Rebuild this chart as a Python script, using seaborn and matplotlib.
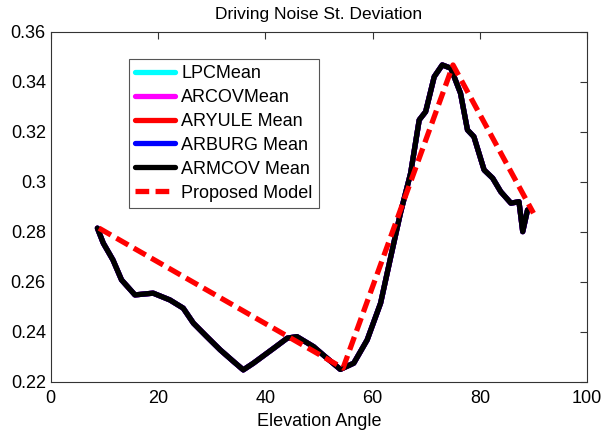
import matplotlib.pyplot as plt
import seaborn as sns
import pandas as pd

# Elevation angle vs driving noise std
angle = [8.7, 9.8, 11.6, 13.2, 15.7, 19.1, 22.2, 24.7, 26.6, 29.1, 31.6, 34.1,
         35.9, 37.8, 41.6, 44.1, 45.9, 49.0, 51.5, 54.0, 56.5, 59.0, 61.5,
         63.4, 65.2, 67.1, 68.7, 69.9, 71.5, 73.0, 74.6, 76.4, 77.7, 78.9,
         80.8, 82.4, 83.9, 85.8, 87.3, 88.0, 88.9]
noise_std = [0.2815, 0.2755, 0.2688, 0.2608, 0.2548, 0.2555, 0.2528, 0.2495,
             0.2435, 0.2381, 0.2328, 0.2281, 0.2248, 0.2275, 0.2335, 0.2375,
             0.2381, 0.2341, 0.2295, 0.2250, 0.2275, 0.2368, 0.2515, 0.2701,
             0.2875, 0.3035, 0.3248, 0.3281, 0.3421, 0.3468, 0.3455, 0.3355,
             0.3208, 0.3181, 0.3048, 0.3015, 0.2961, 0.2915, 0.2921, 0.2801,
             0.2888]

model_angle = [9.0, 54.5, 75.0, 90.0]
model_std = [0.2815, 0.2255, 0.3468, 0.2875]

methods = ['LPCMean', 'ARCOVMean', 'ARYULE Mean', 'ARBURG Mean', 'ARMCOV Mean']
colors = ['#00ffff', '#ff00ff', '#ff0000', '#0000ff', '#000000']

sns.set_style('white')
plt.rcParams['font.family'] = ['Liberation Sans', 'DejaVu Sans']
plt.rcParams['text.color'] = 'black'
plt.rcParams['xtick.color'] = '#333333'
plt.rcParams['ytick.color'] = '#333333'
plt.rcParams['xtick.labelcolor'] = 'black'
plt.rcParams['ytick.labelcolor'] = 'black'
plt.rcParams['axes.labelcolor'] = 'black'

fig, ax = plt.subplots(figsize=(6.04, 4.32), dpi=100)
fig.subplots_adjust(left=0.084, right=0.972, top=0.926, bottom=0.116)

df = pd.DataFrame({'angle': angle, 'std': noise_std})
for name, c in zip(methods, colors):
    sns.lineplot(data=df, x='angle', y='std', color=c, linewidth=3.8,
                 sort=False, label=name, ax=ax)

model = pd.DataFrame({'angle': model_angle, 'std': model_std})
sns.lineplot(data=model, x='angle', y='std', color='#ff0000', linewidth=3.8,
             linestyle=(0, (2.6, 1.2)), sort=False, label='Proposed Model', ax=ax)

ax.set_xlim(0, 100)
ax.set_ylim(0.22, 0.36)
ax.set_xticks([0, 20, 40, 60, 80, 100])
ax.set_yticks([0.22, 0.24, 0.26, 0.28, 0.3, 0.32, 0.34, 0.36])
ax.set_yticklabels(['0.22', '0.24', '0.26', '0.28', '0.3', '0.32', '0.34', '0.36'])
ax.tick_params(direction='in', top=True, right=True, length=5, labelsize=13)
ax.tick_params(axis='x', pad=6)
for s in ax.spines.values():
    s.set_color('#333333')
    s.set_linewidth(0.8)

ax.set_title('Driving Noise St. Deviation', fontsize=12.5, pad=9)
ax.set_xlabel('Elevation Angle', fontsize=13, labelpad=4)
ax.set_ylabel('')

leg = ax.legend(loc='upper left', bbox_to_anchor=(0.146, 0.923), fontsize=13,
                frameon=True, fancybox=False, framealpha=1, handlelength=2.2,
                handletextpad=0.35, borderpad=0.35, labelspacing=0.38,
                borderaxespad=0)
leg.get_frame().set_edgecolor('#555555')
leg.get_frame().set_linewidth(0.8)

plt.savefig('out.png', dpi=100)
